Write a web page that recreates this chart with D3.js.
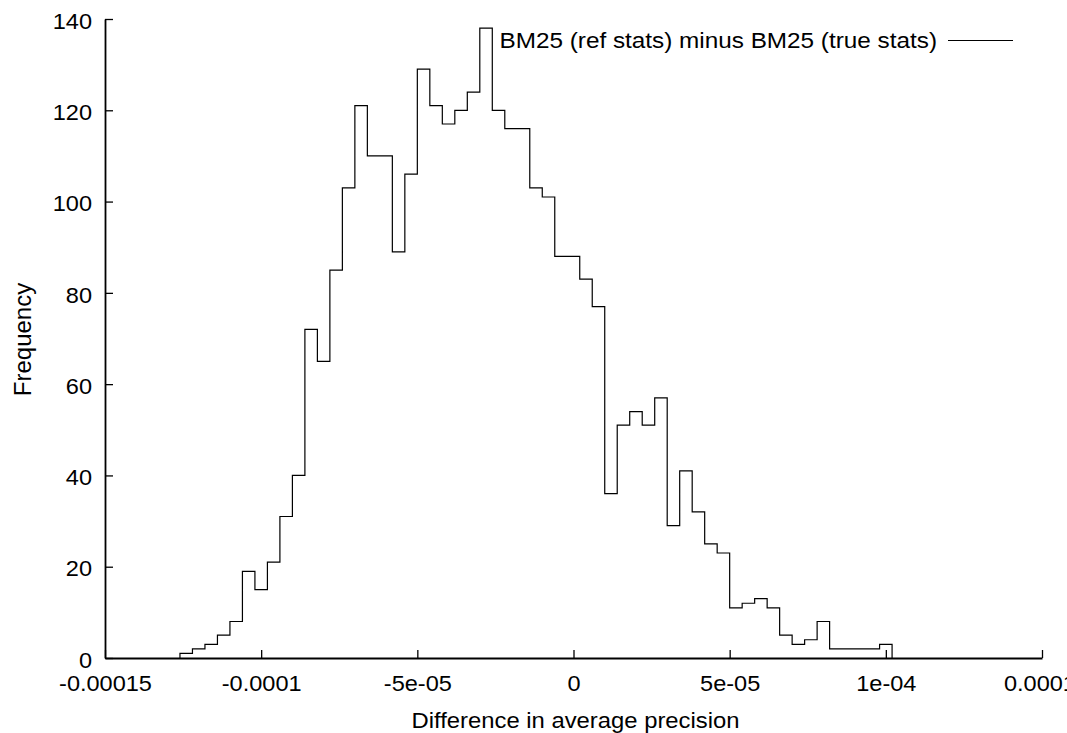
<!DOCTYPE html>
<html>
<head>
<meta charset="utf-8">
<script src="https://cdn.jsdelivr.net/npm/d3@7"></script>
<style>
  html, body { margin: 0; padding: 0; background: #fff; }
  svg { display: block; }
  text { font-family: "Liberation Sans", Arial, sans-serif; fill: #000; }
</style>
</head>
<body>
<svg id="chart" width="1067" height="733"></svg>
<script>
// ---- data ----
const binLeft = [
  -0.000126, -0.000122, -0.000118, -0.000114, -0.000110, -0.000106, -0.000102, -0.000098,
  -0.000094, -0.000090, -0.000086, -0.000082, -0.000078, -0.000074, -0.000070, -0.000066,
  -0.000062, -0.000058, -0.000054, -0.000050, -0.000046, -0.000042, -0.000038, -0.000034,
  -0.000030, -0.000026, -0.000022, -0.000018, -0.000014, -0.000010, -0.000006, -0.000002,
   0.000002,  0.000006,  0.000010,  0.000014,  0.000018,  0.000022,  0.000026,  0.000030,
   0.000034,  0.000038,  0.000042,  0.000046,  0.000050,  0.000054,  0.000058,  0.000062,
   0.000066,  0.000070,  0.000074,  0.000078,  0.000082,  0.000086,  0.000090,  0.000094,
   0.000098
];
const lastBinRight = 0.000102;
const counts = [
  1, 2, 3, 5, 8, 19, 15, 21, 31, 40, 72, 65, 85, 103, 121, 110,
  110, 89, 106, 129, 121, 117, 120, 124, 138, 120, 116, 116, 103, 101, 88, 88,
  83, 77, 36, 51, 54, 51, 57, 29, 41, 32, 25, 23, 11, 12, 13, 11,
  5, 3, 4, 8, 2, 2, 2, 2, 3
];
const xTickValues = [-0.00015, -0.0001, -0.00005, 0, 0.00005, 0.0001, 0.00015];
const xTickLabels = ["-0.00015", "-0.0001", "-5e-05", "0", "5e-05", "1e-04", "0.00015"];
const yTickValues = [0, 20, 40, 60, 80, 100, 120, 140];
const seriesName = "BM25 (ref stats) minus BM25 (true stats)";
const xTitle = "Difference in average precision";
const yTitle = "Frequency";

// ---- layout ----
const svg = d3.select("#chart");
const mLeft = 105, mRight = 1042, mTop = 19, mBottom = 658;
const FS = 22, SX = 1.07;

const x = d3.scaleLinear().domain([-0.00015, 0.00015]).range([mLeft, mRight]);
const y = d3.scaleLinear().domain([0, 140]).range([mBottom, mTop]);

// axes
const xAxis = d3.axisBottom(x)
  .tickValues(xTickValues)
  .tickFormat((d, i) => xTickLabels[i])
  .tickSizeInner(-8).tickSizeOuter(0).tickPadding(17);
const yAxis = d3.axisLeft(y)
  .tickValues(yTickValues)
  .tickFormat(d3.format("d"))
  .tickSizeInner(-8).tickSizeOuter(0).tickPadding(13);

function styleAxis(g) {
  g.attr("font-family", null).attr("font-size", null);
  g.select(".domain").attr("stroke", "#000").attr("stroke-width", 1.8);
  g.selectAll(".tick line").attr("stroke", "#000").attr("stroke-width", 1.3);
  g.selectAll(".tick text")
    .style("font-size", FS + "px")
    .attr("fill", "#000")
    .each(function () {
      const t = d3.select(this);
      const tx = +t.attr("x") || 0;
      t.attr("transform", `translate(${tx},0) scale(${SX},1)`).attr("x", 0);
    });
}

const gx = svg.append("g").attr("transform", `translate(0,${mBottom})`).call(xAxis).call(styleAxis);
// gnuplot pushes the rightmost label slightly inward-less; nudge the last one right
gx.selectAll(".tick text").filter(d => d === 0.00015)
  .attr("transform", `translate(4,0) scale(${SX},1)`);
const gy = svg.append("g").attr("transform", `translate(${mLeft},0)`).call(yAxis).call(styleAxis);
gy.selectAll(".tick text").attr("dy", "0.42em");

// histogram step outline
const pts = [[binLeft[0], 0]];
binLeft.forEach((b, i) => pts.push([b, counts[i]]));
pts.push([lastBinRight, 0]);
const line = d3.line()
  .x(d => x(d[0]))
  .y(d => y(d[1]))
  .curve(d3.curveStepAfter);
svg.append("path")
  .attr("d", line(pts))
  .attr("fill", "none")
  .attr("stroke", "#000")
  .attr("stroke-width", 1.2);

// titles
svg.append("text")
  .attr("transform", `translate(${(mLeft + mRight) / 2 + 2},728) scale(1.083,1)`)
  .attr("text-anchor", "middle")
  .style("font-size", FS + "px")
  .text(xTitle);
svg.append("text")
  .attr("transform", `translate(31,${(mTop + mBottom) / 2 + 1}) rotate(-90)`)
  .attr("text-anchor", "middle")
  .style("font-size", "24px")
  .text(yTitle);

// legend
svg.append("text")
  .attr("transform", `translate(937,48) scale(1.105,1)`)
  .attr("text-anchor", "end")
  .style("font-size", FS + "px")
  .text(seriesName);
svg.append("line")
  .attr("x1", 948).attr("x2", 1013)
  .attr("y1", 40.5).attr("y2", 40.5)
  .attr("stroke", "#000").attr("stroke-width", 1.2);
</script>
</body>
</html>
